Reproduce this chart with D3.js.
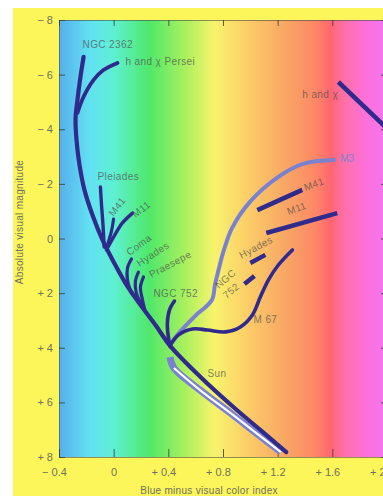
<!DOCTYPE html>
<html>
<head>
<meta charset="utf-8">
<script src="https://cdn.jsdelivr.net/npm/d3@7"></script>
<style>
  html, body { margin: 0; padding: 0; background: #fff; }
  svg { display: block; font-family: "Liberation Sans", Arial, sans-serif; }
</style>
</head>
<body>
<div id="chart"></div>
<script>
// colour index (B-V) ticks and magnitude ticks
const bvTicks = [-0.4, 0, 0.4, 0.8, 1.2, 1.6, 2.0];
const magTicks = [-8, -6, -4, -2, 0, 2, 4, 6, 8];

// [B-V, Mv]
const zams = [[-0.220,-6.65],[-0.243,-5.92],[-0.265,-5.07],[-0.279,-4.41],[-0.272,-3.61],
  [-0.250,-2.69],[-0.214,-1.78],[-0.155,-0.86],[-0.082,0.05],[0.0,0.86],[0.086,1.63],
  [0.196,2.43],[0.306,3.17],[0.415,3.94],[0.635,5.07],[0.876,6.17],[1.073,7.01],[1.263,7.82]];
const hxPersei = [[-0.265,-4.60],[-0.221,-5.18],[-0.148,-5.80],[-0.075,-6.17],[0.028,-6.43]];
const pleiades = [[-0.097,-1.89],[-0.089,-1.23],[-0.078,-0.49],[-0.070,0.31]];
const m41 = [[-0.001,-0.71],[-0.016,-0.27],[-0.053,0.35]];
const m11 = [[0.138,-0.93],[0.064,-0.57],[-0.001,-0.05],[-0.053,0.42]];
const coma = [[0.130,0.75],[0.101,1.08],[0.101,1.52],[0.130,2.00]];
const hyades = [[0.181,1.23],[0.159,1.56],[0.166,2.00],[0.203,2.40]];
const praesepe = [[0.218,1.41],[0.196,1.78],[0.211,2.25],[0.233,2.69]];
const ngc752 = [[0.445,2.29],[0.408,2.62],[0.393,3.09],[0.401,3.64],[0.415,3.97]];
const m67 = [[0.415,3.90],[0.474,3.53],[0.576,3.31],[0.686,3.35],[0.818,3.42],[0.927,3.24],
  [1.015,2.80],[1.073,2.14],[1.132,1.52],[1.205,0.97],[1.308,0.42]];
const m3 = [[0.412,3.90],[0.485,3.42],[0.595,2.84],[0.719,2.25],[0.741,1.70],[0.771,1.08],
  [0.807,0.42],[0.866,-0.38],[0.997,-1.34],[1.195,-2.22],[1.385,-2.73],[1.612,-2.87]];
const sunBand = [[0.412,4.34],[0.441,4.74],[0.632,5.55],[0.873,6.46],[1.070,7.23],[1.224,7.82]];

// giant-branch segments
const m41Giants = [[1.051,-1.04],[1.380,-1.78]];
const m11Giants = [[1.117,-0.20],[1.636,-0.93]];
const hyadesGiants = [[1.000,0.90],[1.110,0.60]];
const ngc752Giants = [[0.957,1.67],[1.030,1.37]];
const hxGiants = [[1.644,-5.73],[2.100,-3.55]];

// labels: text, B-V, Mv, rotation
const labels = [
  ["NGC 2362", -0.228, -6.98, 0],
  ["h and  χ Persei", 0.086, -6.35, 0],
  ["Pleiades", -0.118, -2.14, 0],
  ["M41", -0.001, -0.79, -52],
  ["M11", 0.160, -0.75, -38],
  ["Coma", 0.116, 0.64, -36],
  ["Hyades", 0.189, 1.04, -33],
  ["Praesepe", 0.277, 1.45, -28],
  ["NGC 752", 0.291, 2.14, 0],
  ["M41", 1.403, -1.74, -20],
  ["M11", 1.279, -0.86, -20],
  ["Hyades", 0.935, 0.75, -28],
  ["NGC", 0.768, 1.85, -40],
  ["752", 0.825, 2.22, -40],
  ["M 67", 1.023, 3.09, 0],
  ["Sun", 0.686, 5.07, 0],
  ["h and  χ", 1.380, -5.14, 0]
];

const W = 383, H = 496;
const plot = { left: 59, right: 387, top: 20, bottom: 457 };
const dark = "#302a8c", light = "#7a82cf";

const svg = d3.select("#chart").append("svg").attr("width", W).attr("height", H);

svg.append("rect").attr("x", 13).attr("y", 8).attr("width", W).attr("height", H)
  .attr("fill", "#fcf65a");

const defs = svg.append("defs");
const grad = defs.append("linearGradient").attr("id", "spec")
  .attr("x1", 0).attr("x2", 1).attr("y1", 0).attr("y2", 0);
[[0, "#56aeea"], [0.095, "#62e2f2"], [0.17, "#5ef0d0"], [0.274, "#4fe86a"],
 [0.381, "#a6f05e"], [0.473, "#f8f46c"], [0.579, "#fccc68"], [0.686, "#f8a864"],
 [0.78, "#fc8866"], [0.828, "#ff6670"], [0.87, "#ff70a8"], [0.93, "#ff70d8"], [1, "#f276f0"]]
  .forEach(([o, c]) => grad.append("stop").attr("offset", o).attr("stop-color", c));

defs.append("clipPath").attr("id", "clip").append("rect")
  .attr("x", plot.left).attr("y", plot.top)
  .attr("width", plot.right - plot.left).attr("height", plot.bottom - plot.top);

svg.append("rect").attr("x", plot.left).attr("y", plot.top)
  .attr("width", plot.right - plot.left).attr("height", plot.bottom - plot.top)
  .attr("fill", "url(#spec)");

const x = d3.scaleLinear().domain([-0.4, 2.0]).range([plot.left, plot.right]);
const y = d3.scaleLinear().domain([-8, 8]).range([plot.top, plot.bottom]);

const fmtMag = d => d === 0 ? "0" : (d < 0 ? "\u2212 " : "+ ") + Math.abs(d);
const fmtBV = d => d === 0 ? "0" : (d < 0 ? "\u2212 " : "+ ") + Math.abs(d).toFixed(1);

const styleAxis = g => {
  g.select(".domain").attr("stroke", "#4a4a4a").attr("stroke-opacity", 0.6);
  g.selectAll(".tick line").attr("stroke", "#3a3a3a").attr("stroke-opacity", 0.8);
  g.selectAll("text").attr("fill", "#707060").attr("font-size", 11)
    .attr("font-family", "Liberation Sans, Arial, sans-serif");
};

svg.append("g").attr("transform", `translate(${plot.left},0)`)
  .call(d3.axisLeft(y).tickValues(magTicks).tickFormat(fmtMag).tickSize(-6).tickSizeOuter(0).tickPadding(6))
  .call(styleAxis);
svg.append("g").attr("transform", `translate(${plot.right},0)`)
  .call(d3.axisRight(y).tickValues(magTicks).tickFormat("").tickSize(-6).tickSizeOuter(0))
  .call(styleAxis);
svg.append("g").attr("transform", `translate(0,${plot.bottom})`)
  .call(d3.axisBottom(x).tickValues(bvTicks).tickFormat(fmtBV).tickSize(-8).tickSizeOuter(0).tickPadding(11))
  .call(styleAxis)
  .call(g => g.selectAll(".tick text").attr("dx", d => d === 0 ? 0 : -5));
svg.append("g").attr("transform", `translate(0,${plot.top})`)
  .call(d3.axisTop(x).tickValues(bvTicks).tickFormat("").tickSize(-6).tickSizeOuter(0))
  .call(styleAxis);

const line = d3.line().x(d => x(d[0])).y(d => y(d[1])).curve(d3.curveCatmullRom.alpha(0.5));
const seg = d3.line().x(d => x(d[0])).y(d => y(d[1]));

const g = svg.append("g").attr("clip-path", "url(#clip)").attr("fill", "none");

// sun branch: light band with white core
g.append("path").attr("d", line(sunBand)).attr("stroke", light).attr("stroke-width", 7);
g.append("path").attr("d", line(sunBand.slice(1))).attr("stroke", "#ffffff").attr("stroke-width", 2.2);
// M3 giant branch
g.append("path").attr("d", line(m3)).attr("stroke", light).attr("stroke-width", 4)
  .attr("stroke-linecap", "round");

[[zams, 4.2], [hxPersei, 3.8], [pleiades, 3.4], [m41, 3.2], [m11, 3.4], [coma, 3.2],
 [hyades, 3.2], [praesepe, 3.2], [ngc752, 3.6], [m67, 3.6]].forEach(([pts, w]) => {
  g.append("path").attr("d", line(pts)).attr("stroke", dark).attr("stroke-width", w)
    .attr("stroke-linecap", "round");
});

[m41Giants, m11Giants, hyadesGiants, ngc752Giants, hxGiants].forEach(pts => {
  g.append("path").attr("d", seg(pts)).attr("stroke", dark).attr("stroke-width", 4.5);
});

svg.append("g").selectAll("text").data(labels).join("text")
  .attr("transform", d => `translate(${x(d[1])},${y(d[2])}) rotate(${d[3]})`)
  .attr("font-size", 10).attr("letter-spacing", 0.4)
  .attr("fill", "#4e4e4e")
  .attr("fill-opacity", 0.72)
  .text(d => d[0]);

svg.append("text").attr("transform", `translate(${x(1.658)},${y(-2.80)})`)
  .attr("font-size", 10).attr("fill", light).text("M3");

svg.append("text").attr("transform", "translate(23,222) rotate(-90)")
  .attr("text-anchor", "middle").attr("font-size", 10).attr("letter-spacing", 0.3)
  .attr("fill", "#707060").text("Absolute visual magnitude");

svg.append("text").attr("x", 209).attr("y", 494)
  .attr("text-anchor", "middle").attr("font-size", 10).attr("letter-spacing", 0.3)
  .attr("fill", "#707060").text("Blue minus visual  color index");
</script>
</body>
</html>
